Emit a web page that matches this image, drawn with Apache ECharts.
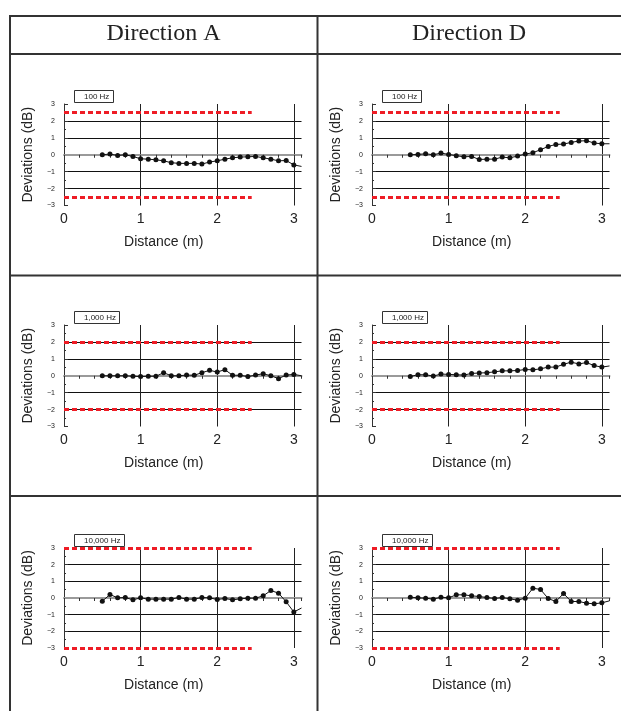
<!DOCTYPE html>
<html>
<head>
<meta charset="utf-8">
<script src="https://cdn.jsdelivr.net/npm/echarts@6/dist/echarts.min.js"></script>
<style>
  html, body { margin: 0; padding: 0; background: #fff; }
  #main { width: 621px; height: 711px; }
</style>
</head>
<body>
<div id="main"></div>
<script>
// distance (m); the last point only carries the line to the edge
var distances = [0.5, 0.6, 0.7, 0.8, 0.9, 1.0, 1.1, 1.2, 1.3, 1.4, 1.5, 1.6, 1.7, 1.8, 1.9,
  2.0, 2.1, 2.2, 2.3, 2.4, 2.5, 2.6, 2.7, 2.8, 2.9, 3.0, 3.1];

// deviations (dB)
var dirA100 = [0, 0.04, -0.04, 0, -0.1, -0.24, -0.26, -0.3, -0.36, -0.47, -0.51, -0.51, -0.51, -0.55, -0.43,
  -0.36, -0.26, -0.18, -0.14, -0.12, -0.1, -0.18, -0.26, -0.36, -0.34, -0.6, -0.69];
var dirD100 = [0, 0.02, 0.06, 0, 0.1, 0.02, -0.06, -0.12, -0.1, -0.28, -0.26, -0.26, -0.14, -0.18, -0.08,
  0.04, 0.12, 0.3, 0.49, 0.61, 0.63, 0.73, 0.81, 0.83, 0.69, 0.65, 0.65];
var dirA1000 = [0, 0, 0, 0, -0.03, -0.05, -0.03, -0.03, 0.18, 0, 0, 0.04, 0.03, 0.18, 0.32,
  0.22, 0.36, 0.03, 0.03, -0.05, 0.04, 0.12, 0, -0.17, 0.04, 0.08, 0];
var dirD1000 = [-0.04, 0.06, 0.06, -0.02, 0.1, 0.08, 0.06, 0.04, 0.14, 0.16, 0.18, 0.23, 0.29, 0.29, 0.31,
  0.37, 0.35, 0.41, 0.51, 0.51, 0.68, 0.8, 0.7, 0.78, 0.6, 0.51, 0.58];
var dirA10000 = [-0.19, 0.21, 0.01, 0.03, -0.11, 0.01, -0.07, -0.07, -0.07, -0.07, 0.03, -0.07, -0.07, 0.03, 0.01,
  -0.09, -0.03, -0.11, -0.05, -0.01, -0.01, 0.13, 0.45, 0.29, -0.23, -0.84, -0.6];
var dirD10000 = [0.05, 0.01, -0.01, -0.07, 0.05, 0.01, 0.19, 0.19, 0.13, 0.09, 0.03, -0.03, 0.03, -0.05, -0.13,
  -0.01, 0.59, 0.51, -0.03, -0.21, 0.27, -0.21, -0.21, -0.31, -0.35, -0.29, -0.17];

var directions = ['Direction A', 'Direction D'];
var freqLabels = ['100 Hz', '1,000 Hz', '10,000 Hz'];
var limits = [2.5, 2, 3];      // red tolerance lines, +/- dB
var limitEnd = 2.45;           // red lines stop here (m)
var panelValues = [dirA100, dirD100, dirA1000, dirD1000, dirA10000, dirD10000];

var chart = echarts.init(document.getElementById('main'));

var gridLefts = [64, 372];
var gridTops = [104, 325, 548];
var gridHeights = [101.5, 101.5, 100];
var sans = 'Liberation Sans, Arial, sans-serif';

var grids = [], xAxes = [], yAxes = [], series = [], titles = [];

panelValues.forEach(function (vals, i) {
  var row = Math.floor(i / 2), col = i % 2;
  var lim = limits[row];
  grids.push({ left: gridLefts[col], top: gridTops[row], width: 237.5, height: gridHeights[row] });

  // bottom axis: labels, name, vertical grid lines
  xAxes.push({
    type: 'value', gridIndex: i, min: 0, max: 3.1, interval: 1,
    position: 'bottom',
    axisLine: { show: false, onZero: false },
    axisTick: { show: false },
    axisLabel: { fontSize: 14, margin: 7, color: '#222', fontFamily: sans, showMaxLabel: false },
    splitLine: { show: true, showMinLine: false, showMaxLine: false, lineStyle: { color: '#222', width: 1 } },
    name: 'Distance (m)', nameLocation: 'middle', nameGap: 30,
    nameTextStyle: { fontSize: 14, color: '#222', fontFamily: sans, padding: [0, 38, 0, 0] }
  });
  // zero line with small ticks
  xAxes.push({
    type: 'value', gridIndex: i, min: 0, max: 3.1, interval: 1, z: 3,
    axisLine: { show: true, onZero: true, lineStyle: { color: '#9a9a9a', width: 2 } },
    axisTick: { show: true, inside: true, length: 3, lineStyle: { color: '#333' } },
    minorTick: { show: true, splitNumber: 5, length: 3, lineStyle: { color: '#333' } },
    axisLabel: { show: false },
    splitLine: { show: false }
  });
  yAxes.push({
    type: 'value', gridIndex: i, min: -3, max: 3, interval: 1,
    axisLine: { show: true, lineStyle: { color: '#333', width: 1 } },
    axisTick: { show: true, inside: true, length: 4, lineStyle: { color: '#333' } },
    minorTick: { show: true, splitNumber: 2, length: 2, lineStyle: { color: '#333' } },
    axisLabel: {
      fontSize: 7, margin: 9, color: '#222', fontFamily: sans,
      formatter: function (v) { return v < 0 ? '\u2212' + Math.abs(v) : String(v); }
    },
    splitLine: { show: true, showMinLine: false, showMaxLine: false, lineStyle: { color: '#111', width: 1 } },
    name: 'Deviations (dB)', nameLocation: 'middle', nameGap: 29,
    nameTextStyle: { fontSize: 14, color: '#222', fontFamily: sans }
  });

  var data = distances.map(function (d, k) {
    var item = { value: [d, vals[k]] };
    if (k === distances.length - 1) item.symbol = 'none';
    return item;
  });

  series.push({
    type: 'line', xAxisIndex: 2 * i, yAxisIndex: i, z: 5,
    data: data, symbol: 'circle', symbolSize: 5, showAllSymbol: true,
    lineStyle: { color: '#111', width: 1 }, itemStyle: { color: '#111' },
    animation: false, silent: true,
    markLine: {
      silent: true, symbol: 'none', animation: false,
      label: { show: false },
      lineStyle: { color: '#ee1c25', width: 3, type: [5, 3] },
      data: [
        [{ coord: [0, lim] }, { coord: [limitEnd, lim] }],
        [{ coord: [0, -lim] }, { coord: [limitEnd, -lim] }]
      ]
    }
  });

  titles.push({
    text: freqLabels[row],
    left: gridLefts[col] + 10, top: gridTops[row] - 14,
    padding: [2, 4, 1, 10], borderColor: '#333', borderWidth: 1,
    textStyle: { fontSize: 8, fontWeight: 'normal', color: '#222', fontFamily: sans, lineHeight: 10 }
  });
});

// column headers
[163.5, 469].forEach(function (cx, c) {
  titles.push({
    text: directions[c], left: cx, top: 22, textAlign: 'center', padding: 0,
    textStyle: { fontSize: 24, fontWeight: 'normal', color: '#222', fontFamily: 'Liberation Serif, Times New Roman, serif' }
  });
});

var border = { stroke: '#333', lineWidth: 2 };
chart.setOption({
  animation: false,
  title: titles,
  grid: grids,
  xAxis: xAxes,
  yAxis: yAxes,
  series: series,
  graphic: [
    { type: 'line', shape: { x1: 9, y1: 16, x2: 621, y2: 16 }, style: border },
    { type: 'line', shape: { x1: 10, y1: 15, x2: 10, y2: 711 }, style: border },
    { type: 'line', shape: { x1: 10, y1: 54, x2: 621, y2: 54 }, style: border },
    { type: 'line', shape: { x1: 317.5, y1: 16, x2: 317.5, y2: 711 }, style: border },
    { type: 'line', shape: { x1: 10, y1: 275.5, x2: 621, y2: 275.5 }, style: border },
    { type: 'line', shape: { x1: 10, y1: 496, x2: 621, y2: 496 }, style: border }
  ]
});
</script>
</body>
</html>
